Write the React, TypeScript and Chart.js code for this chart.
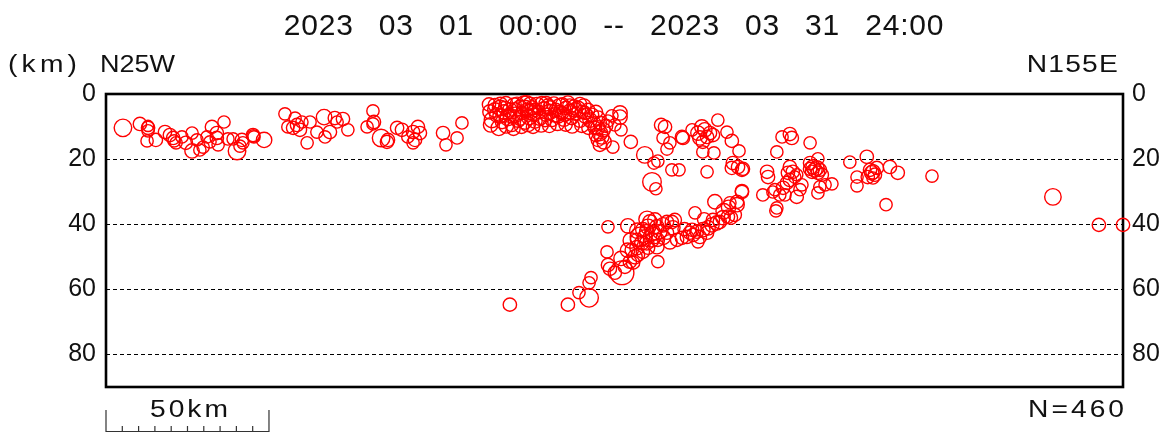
import React, { useEffect, useRef } from "react";
import { Chart, registerables } from "chart.js";

Chart.register(...registerables);

// [distance along profile (km), depth (km), magnitude]
type Ev = [number, number, number];

const westShallow: Ev[] = [
  [5.2, 10.4, 2.6], [10.4, 9.2, 1.8], [12.9, 10.4, 1.8], [12.9, 11.3, 1.6], [12.9, 9.8, 1.4],
  [12.6, 14.4, 1.6], [15.3, 14.1, 1.8], [18.1, 11.7, 1.8], [19.6, 12.6, 1.8], [20.6, 13.5, 1.8],
  [20.9, 14.4, 1.6], [21.5, 15.0, 1.6], [23.3, 13.2, 1.6], [24.5, 15.0, 1.8], [26.4, 12.0, 1.6],
  [26.4, 17.5, 2.0], [27.9, 14.1, 1.6], [28.8, 17.2, 1.6], [29.8, 16.3, 1.6], [31.0, 13.2, 1.6],
  [31.9, 14.7, 1.6], [32.5, 10.1, 1.8], [34.0, 12.0, 1.8], [34.0, 13.5, 1.8], [34.4, 15.6, 1.6],
  [36.2, 8.6, 1.6], [37.4, 13.8, 1.6], [39.0, 13.8, 1.6], [40.2, 17.5, 2.6], [41.1, 16.0, 1.6],
  [41.7, 14.1, 1.8], [42.0, 15.0, 1.6], [45.1, 12.6, 1.8], [45.4, 13.2, 1.6], [45.2, 12.9, 1.7],
  [48.5, 14.1, 2.2],
];

const midWestShallow: Ev[] = [
  [54.9, 6.1, 1.6], [55.8, 10.1, 1.6], [57.4, 10.4, 1.8], [58.0, 7.4, 1.6], [58.6, 9.5, 1.8],
  [59.5, 11.0, 1.8], [60.1, 8.6, 1.6], [61.7, 15.0, 1.6], [62.6, 8.6, 1.6], [64.7, 11.7, 1.6],
  [66.9, 7.1, 2.2], [67.2, 13.2, 1.6], [68.7, 11.7, 1.8], [70.2, 7.4, 1.8], [70.9, 8.6, 1.6],
  [72.7, 7.7, 1.8], [74.2, 11.0, 1.6],
  [80.1, 10.1, 1.6], [81.9, 5.2, 1.6], [82.2, 8.6, 1.8], [81.9, 9.2, 1.6], [84.4, 13.5, 2.6],
  [86.2, 14.7, 1.8], [86.5, 14.1, 1.8], [89.3, 10.4, 1.8], [90.8, 11.0, 1.8], [92.6, 13.2, 1.6],
  [94.2, 11.7, 1.8], [94.8, 14.1, 1.8], [95.7, 10.1, 1.8], [96.3, 12.0, 1.8], [94.2, 15.0, 1.6],
  [103.4, 12.0, 1.8], [104.3, 15.6, 1.6], [107.7, 13.5, 1.6], [109.2, 8.9, 1.6],
];

const swarm: Ev[] = [
  [117.8, 5.5, 2.0], [118.4, 8.0, 2.2], [119.3, 3.4, 1.8], [119.9, 6.4, 2.0], [120.9, 4.3, 2.2],
  [121.5, 8.6, 1.8], [122.1, 5.5, 2.0], [122.7, 2.8, 1.8], [123.3, 7.4, 2.2], [123.9, 4.9, 2.0],
  [124.5, 9.5, 1.8], [125.2, 3.4, 2.0], [125.5, 6.4, 2.2], [126.1, 3.0, 1.8], [126.4, 8.0, 2.0],
  [127.0, 4.3, 2.2], [127.6, 5.8, 1.8], [128.2, 2.8, 2.0], [128.5, 8.6, 2.0], [129.1, 4.9, 1.8],
  [129.8, 7.1, 2.2], [130.1, 3.0, 1.8], [130.7, 4.3, 2.0], [131.3, 6.4, 1.8], [131.6, 8.3, 2.0],
  [132.2, 3.4, 2.2], [132.8, 5.5, 1.8], [133.1, 7.4, 2.0], [133.7, 2.8, 1.8], [134.4, 4.6, 2.0],
  [135.0, 6.4, 1.8], [135.6, 3.7, 2.0], [136.2, 5.5, 2.2], [136.8, 8.0, 1.8], [137.4, 3.1, 2.0],
  [138.0, 4.9, 1.8], [138.7, 6.7, 2.0], [139.3, 3.7, 2.2], [139.9, 5.8, 1.8], [140.5, 7.7, 2.0],
  [141.1, 4.3, 1.8], [141.7, 2.8, 2.0], [142.3, 5.5, 2.2], [142.9, 7.4, 1.8], [143.6, 4.0, 2.0],
  [144.2, 6.1, 1.8], [144.8, 4.6, 2.2], [145.4, 8.0, 2.0], [146.0, 5.5, 1.8], [146.6, 3.7, 2.0],
  [147.2, 6.7, 2.2], [147.9, 4.9, 1.8], [148.5, 8.0, 2.0], [149.1, 6.4, 1.8], [149.7, 9.2, 2.0],
  [150.3, 5.5, 1.8], [150.9, 7.4, 2.0], [120.9, 6.7, 2.0], [123.9, 6.7, 1.8], [127.0, 7.4, 2.0],
  [130.1, 5.5, 2.2], [134.7, 8.0, 1.8], [137.7, 6.4, 2.0], [140.8, 6.4, 1.8], [143.9, 4.9, 2.0],
  [146.9, 5.8, 1.8], [119.3, 4.9, 2.0], [122.4, 4.3, 1.8], [125.5, 4.9, 2.0], [128.5, 4.3, 2.2],
  [131.6, 4.9, 1.8], [136.2, 4.3, 2.0], [139.3, 5.5, 1.8], [142.3, 3.7, 2.0], [145.4, 3.1, 1.8],
  [118.0, 9.5, 2.0], [120.5, 10.4, 2.2], [122.8, 9.8, 2.0], [125.0, 10.7, 1.8], [127.5, 9.9, 2.0],
  [129.4, 9.2, 2.2], [131.0, 10.1, 1.8], [133.5, 9.5, 2.0], [136.0, 9.8, 1.8], [138.5, 9.0, 2.0],
  [141.0, 9.4, 1.8], [143.0, 9.8, 2.0], [146.0, 9.6, 2.0], [148.0, 10.4, 1.8], [117.5, 3.2, 1.8],
  [121.0, 3.2, 2.0], [135.0, 3.0, 2.0], [140.0, 3.2, 1.8], [129.0, 2.9, 2.2],
];

const swarmTail: Ev[] = [
  [150.9, 10.4, 2.0], [151.5, 12.0, 2.2], [152.1, 13.2, 2.0], [150.9, 14.1, 1.8], [152.8, 14.7, 2.0],
  [150.3, 12.6, 1.8], [152.5, 11.0, 2.0], [151.5, 15.6, 1.8], [153.4, 9.8, 1.8], [150.0, 10.4, 1.8],
  [151.5, 8.9, 1.8], [154.0, 8.3, 1.6], [155.2, 6.7, 1.6], [157.7, 5.8, 2.0], [157.7, 7.1, 2.0],
  [158.0, 11.0, 1.6], [161.0, 14.7, 1.8], [155.5, 16.3, 1.6], [156.1, 9.5, 1.6],
];

const eastShallow: Ev[] = [
  [170.3, 9.5, 1.8], [171.5, 10.1, 1.8], [170.9, 13.5, 1.6], [173.0, 15.0, 1.6], [172.1, 16.9, 1.6],
  [176.7, 13.2, 1.8], [177.0, 13.5, 1.8], [179.8, 11.0, 1.6], [181.6, 12.0, 2.0], [182.8, 10.1, 2.0],
  [183.7, 11.0, 2.0], [182.2, 13.5, 2.0], [184.4, 13.2, 1.8], [185.3, 12.0, 1.8], [183.1, 14.7, 1.8],
  [186.2, 12.6, 1.8], [187.7, 8.0, 1.6], [183.1, 17.8, 1.6], [186.5, 18.1, 1.6], [190.5, 11.7, 1.6],
  [192.0, 14.4, 1.8], [194.2, 17.5, 1.6], [165.3, 18.7, 2.4], [168.1, 21.2, 1.6], [169.3, 20.6, 1.6],
  [173.6, 23.3, 1.6], [175.8, 23.3, 1.6], [184.4, 23.9, 1.6], [192.3, 21.2, 1.8], [192.0, 22.7, 1.8],
  [193.9, 22.4, 1.8], [195.1, 23.3, 1.8], [195.4, 23.0, 1.8], [167.5, 27.0, 2.8], [168.7, 29.1, 1.6],
  [186.8, 33.1, 2.0], [195.1, 29.8, 1.8], [193.6, 33.1, 1.8], [191.4, 33.4, 1.6], [201.5, 31.0, 1.6],
  [205.2, 29.4, 1.6], [208.3, 31.0, 1.6], [202.8, 23.9, 1.8], [203.1, 25.5, 1.8], [205.8, 17.8, 1.6],
  [207.4, 13.2, 1.6], [209.8, 12.3, 1.8], [210.4, 13.5, 1.8], [209.8, 22.4, 1.8], [210.7, 23.9, 1.8],
  [211.3, 25.5, 1.6],
];

const eastCluster: Ev[] = [
  [216.0, 15.0, 1.6], [209.2, 24.2, 1.8], [209.8, 26.4, 1.8], [211.9, 24.8, 1.6], [216.0, 21.2, 1.8],
  [216.9, 22.4, 2.0], [218.1, 22.7, 2.0], [219.0, 23.3, 1.8], [216.6, 23.9, 1.8], [218.4, 24.2, 1.8],
  [217.5, 23.3, 2.0], [216.0, 23.0, 1.8], [219.6, 24.8, 1.8], [218.4, 19.9, 1.6], [213.5, 27.9, 1.6],
  [212.9, 29.4, 1.6], [208.9, 27.3, 1.8], [207.7, 28.8, 1.8], [206.7, 31.0, 1.6], [204.6, 30.1, 1.6],
  [211.9, 31.6, 1.8], [218.4, 30.4, 1.6], [219.0, 28.5, 1.6], [220.6, 27.9, 1.6], [222.7, 27.6, 1.6],
  [228.2, 20.9, 1.6], [233.4, 19.3, 1.8], [230.4, 25.5, 1.6], [230.4, 28.2, 1.6], [234.4, 23.3, 1.8],
  [234.9, 24.2, 2.0], [235.3, 23.9, 2.0], [235.9, 24.8, 1.8], [233.7, 25.5, 1.8], [236.5, 22.7, 1.8],
  [235.3, 25.8, 1.6], [240.5, 22.4, 1.8], [242.9, 24.2, 1.8], [253.4, 25.2, 1.6], [239.3, 34.0, 1.6],
  [205.8, 35.0, 1.6],
];

const farEast: Ev[] = [
  [290.5, 31.6, 2.4], [304.6, 40.2, 1.8], [312.0, 40.2, 1.8],
];

const deepBand: Ev[] = [
  [123.9, 64.7, 1.8], [141.7, 64.7, 1.8], [145.1, 61.0, 1.6], [148.2, 62.6, 2.8], [148.2, 58.0, 1.6],
  [148.8, 56.4, 1.6], [154.0, 52.5, 1.8], [154.6, 53.7, 1.8], [156.1, 54.9, 1.8], [158.3, 54.9, 3.8],
  [153.7, 48.5, 1.6], [154.0, 40.8, 1.6], [160.1, 40.5, 2.0], [159.2, 53.1, 1.8], [160.7, 51.5, 1.8],
  [162.3, 50.0, 2.0], [161.3, 47.9, 1.8], [162.9, 47.2, 2.0], [164.4, 45.7, 2.0], [162.9, 44.8, 1.8],
  [163.8, 43.9, 3.0], [165.3, 43.9, 2.0], [164.7, 41.7, 2.0], [166.3, 40.8, 2.2], [166.9, 39.3, 2.0],
  [168.4, 38.7, 2.0], [169.0, 40.8, 2.0], [167.8, 42.6, 2.2], [165.9, 42.3, 2.0], [167.5, 44.8, 2.0],
  [169.3, 44.8, 1.8], [169.9, 42.3, 2.0], [170.9, 40.2, 2.0], [172.1, 39.3, 1.8], [173.6, 39.3, 1.8],
  [174.5, 38.7, 1.8], [173.9, 41.1, 2.0], [172.1, 42.6, 1.8], [169.0, 46.9, 2.0], [169.3, 51.5, 1.6],
  [166.3, 47.2, 1.8], [164.7, 48.5, 1.8], [163.2, 49.4, 1.8], [161.7, 51.8, 1.8], [165.9, 45.7, 2.0],
  [173.0, 45.4, 2.0], [175.2, 44.8, 1.8], [176.7, 44.2, 1.8], [178.2, 43.9, 1.8], [179.1, 42.6, 1.8],
  [180.1, 43.3, 1.8], [181.3, 42.3, 1.8], [182.2, 43.9, 1.8], [181.6, 45.4, 1.6], [183.1, 41.7, 2.0],
  [184.7, 41.1, 2.0], [185.9, 40.2, 2.0], [187.4, 39.6, 2.0], [186.2, 38.7, 1.8], [188.3, 39.3, 1.8],
  [189.3, 38.0, 2.0], [190.8, 37.7, 1.8], [191.7, 38.0, 1.8], [192.9, 37.1, 1.8], [193.6, 34.0, 2.0],
  [195.1, 30.1, 1.8], [180.7, 36.5, 1.6], [184.4, 42.6, 1.8], [179.8, 41.7, 1.8], [205.5, 35.9, 1.6],
  [163.0, 42.0, 2.2], [166.0, 38.5, 2.4], [161.0, 45.0, 2.2], [160.0, 48.0, 2.0], [158.0, 50.5, 2.0],
  [168.0, 43.5, 2.4], [171.0, 44.0, 2.0], [177.5, 41.5, 1.8], [183.5, 38.5, 1.8], [189.5, 36.0, 2.2],
  [191.0, 34.8, 2.0],
];

const depthTicks = [0, 20, 40, 60, 80];
const distanceMaxKm = 312;
const depthMaxKm = 90;
const scaleBarKm = 50;
const scaleBarStepKm = 5;

const titleText = "2023 03 01 00:00 -- 2023 03 31 24:00";
const unitLabel = "(km)";
const leftDirection = "N25W";
const rightDirection = "N155E";
const countLabel = "N=460";
const scaleLabel = "50km";

const FONT = "'Liberation Sans', Arial, sans-serif";
const allEvents = [...westShallow, ...midWestShallow, ...swarm, ...swarmTail, ...eastShallow, ...eastCluster, ...farEast, ...deepBand];
const points = allEvents.map(([x, y, m]) => ({ x, y, m }));
const radiusFor = (m: number) => 2 + 2.6 * m;

function wideText(ctx: any, text: string, x: number, y: number, align: string, sx: number, spacing: number) {
  ctx.save();
  ctx.translate(x, y);
  ctx.scale(sx, 1);
  ctx.textAlign = align;
  ctx.letterSpacing = `${spacing}px`;
  ctx.fillText(text, 0, 0);
  ctx.restore();
}

const overlay = {
  id: "overlay",
  beforeDatasetsDraw(chart: any) {
    const { ctx, chartArea } = chart;
    const { left, right, top, bottom } = chartArea;
    ctx.save();
    ctx.strokeStyle = "#000";
    ctx.lineWidth = 2.6;
    ctx.strokeRect(left, top, right - left, bottom - top);
    ctx.restore();
  },
  afterDraw(chart: any) {
    const { ctx, scales } = chart;
    const x = scales.x;
    ctx.save();
    ctx.fillStyle = "#111";
    ctx.textBaseline = "alphabetic";

    ctx.font = `30px ${FONT}`;
    ctx.textAlign = "center";
    ctx.letterSpacing = "0.8px";
    (ctx as any).wordSpacing = "16px";
    ctx.fillText(titleText, 614, 35);
    (ctx as any).wordSpacing = "0px";

    ctx.font = `23.5px ${FONT}`;
    wideText(ctx, unitLabel, 8, 72, "left", 1.2, 3.5);
    wideText(ctx, leftDirection, 100, 72, "left", 1.15, 0);
    wideText(ctx, rightDirection, 1119, 72, "right", 1.2, 1);
    wideText(ctx, countLabel, 1127, 417, "right", 1.2, 2.5);
    wideText(ctx, scaleLabel, 150, 417, "left", 1.2, 2.5);

    // scale bar
    const x0 = x.getPixelForValue(0);
    const x1 = x.getPixelForValue(scaleBarKm);
    ctx.strokeStyle = "#333";
    ctx.lineWidth = 1.2;
    ctx.beginPath();
    ctx.moveTo(x0, 431.5);
    ctx.lineTo(x1, 431.5);
    ctx.moveTo(x0, 410);
    ctx.lineTo(x0, 432);
    ctx.moveTo(x1, 410);
    ctx.lineTo(x1, 432);
    for (let k = scaleBarStepKm; k < scaleBarKm; k += scaleBarStepKm) {
      const px = x.getPixelForValue(k);
      ctx.moveTo(px, 426);
      ctx.lineTo(px, 432);
    }
    ctx.stroke();
    ctx.restore();
  },
};

export default function App() {
  const ref = useRef<HTMLCanvasElement>(null);
  useEffect(() => {
    document.body.style.margin = "0";
    const canvas = ref.current!;
    const yCommon = (position: string, width: number, padding: number, grid: boolean) => ({
      type: "linear",
      position,
      reverse: true,
      min: 0,
      max: depthMaxKm,
      afterFit: (s: any) => {
        s.width = width;
      },
      afterBuildTicks: (s: any) => {
        s.ticks = depthTicks.map((v) => ({ value: v }));
      },
      ticks: { font: { family: FONT, size: 25 }, color: "#111", padding },
      grid: grid
        ? {
            drawTicks: false,
            lineWidth: 1,
            color: (c: any) =>
              c.tick && c.tick.value > 0 && c.tick.value < depthMaxKm ? "#000" : "rgba(0,0,0,0)",
          }
        : { display: false, drawTicks: false },
      border: { display: false, dash: [4, 3] },
    });
    const chart = new Chart(canvas, {
      type: "scatter",
      data: {
        datasets: [
          {
            data: points,
            borderColor: "#ff0000",
            backgroundColor: "rgba(0,0,0,0)",
            borderWidth: 1.4,
            pointRadius: (c: any) => radiusFor(c.raw ? c.raw.m : 1.8),
            clip: false,
          } as any,
        ],
      },
      options: {
        responsive: false,
        animation: false,
        events: [],
        layout: { padding: { top: 94, bottom: 46, left: 0, right: 0 } },
        plugins: { legend: { display: false }, tooltip: { enabled: false }, title: { display: false } },
        scales: {
          x: { type: "linear", display: false, min: 0, max: distanceMaxKm },
          y: yCommon("left", 106, 10, true) as any,
          y2: yCommon("right", 49, 9, false) as any,
        },
      },
      plugins: [overlay],
    });
    return () => chart.destroy();
  }, []);
  return (
    <div style={{ position: "absolute", left: 0, top: 0, width: 1172, height: 433, background: "#fff" }}>
      <canvas ref={ref} width={1172} height={433} style={{ display: "block", width: 1172, height: 433 }} />
    </div>
  );
}
